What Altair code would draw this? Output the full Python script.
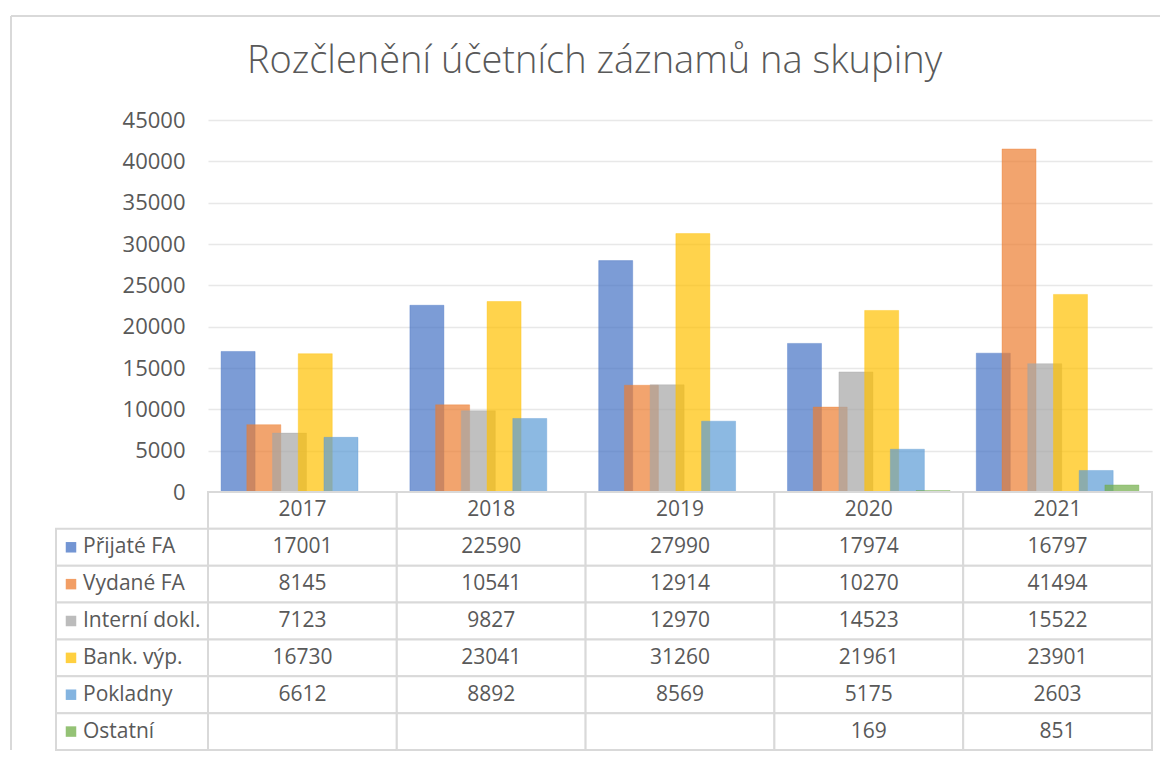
import altair as alt
import pandas as pd

# ---- data ----
years = ["2017", "2018", "2019", "2020", "2021"]
series = ["Přijaté FA", "Vydané FA", "Interní dokl.", "Bank. výp.", "Pokladny", "Ostatní"]
prijate_fa = [17001, 22590, 27990, 17974, 16797]
vydane_fa = [8145, 10541, 12914, 10270, 41494]
interni_dokl = [7123, 9827, 12970, 14523, 15522]
bank_vyp = [16730, 23041, 31260, 21961, 23901]
pokladny = [6612, 8892, 8569, 5175, 2603]
ostatni = [None, None, None, 169, 851]
colors = ["#4472C4", "#ED7D31", "#A5A5A5", "#FFC000", "#5B9BD5", "#70AD47"]
y_ticks = [0, 5000, 10000, 15000, 20000, 25000, 30000, 35000, 40000, 45000]
title_text = "Rozčlenění účetních záznamů na skupiny"

values_by_series = [prijate_fa, vydane_fa, interni_dokl, bank_vyp, pokladny, ostatni]
records = []
for s, vals in zip(series, values_by_series):
    for yr, v in zip(years, vals):
        records.append({"year": yr, "series": s, "value": v,
                        "txt": "" if v is None else str(v)})
df = pd.DataFrame(records)
hdr = pd.DataFrame({"year": years, "series": ["hdr"] * len(years), "value": None, "txt": years})
tdf = pd.concat([hdr, df], ignore_index=True)
row_domain = ["hdr"] + series
ldf = pd.DataFrame({"series": series})

# ---- style ----
FONT = "Open Sans"
TXT = "#595959"
LINE = "#d9d9d9"
W_LAB, W, H, HT = 152, 944, 372, 258
no_frame = alt.ViewBackground(stroke="transparent", strokeWidth=0)

color = alt.Color("series:N", scale=alt.Scale(domain=series, range=colors), legend=None)
stroke = alt.Stroke("series:N", scale=alt.Scale(domain=series, range=colors), legend=None)
x_year = alt.X("year:N", sort=years,
               scale=alt.Scale(domain=years, paddingInner=0, paddingOuter=0), axis=None)
y_row = alt.Y("series:N", scale=alt.Scale(domain=row_domain, paddingInner=0, paddingOuter=0),
              axis=None)

# ---- bars ----
bars = alt.Chart(df).transform_filter("isValid(datum.value)").mark_bar(
    width=34, fillOpacity=0.7, strokeOpacity=0.35, strokeWidth=1
).encode(
    x=x_year,
    xOffset=alt.XOffset("series:N", sort=series,
                        scale=alt.Scale(domain=series, paddingInner=0, paddingOuter=0.67)),
    y=alt.Y("value:Q", scale=alt.Scale(domain=[0, 45000], nice=False),
            axis=alt.Axis(values=y_ticks, format="d", title=None, grid=True,
                          gridColor="#e8e8e8", gridWidth=1.5, domain=False, ticks=False,
                          labelPadding=23, labelFont=FONT, labelFontSize=22,
                          labelColor=TXT)),
    color=color,
    stroke=stroke,
).properties(width=W, height=H, view=no_frame)

# ---- spacer with chart-area frame ----
one = alt.Data(values=[{}])
frame_left = alt.Chart(one).mark_rule(color=LINE, strokeWidth=2).encode(
    x=alt.value(-45), y=alt.value(-104), y2=alt.value(H + HT))
frame_top = alt.Chart(one).mark_rule(color=LINE, strokeWidth=2).encode(
    x=alt.value(-45), x2=alt.value(W_LAB + W + 8), y=alt.value(-104))
spacer = alt.layer(frame_left, frame_top).properties(width=W_LAB, height=H, view=no_frame)

# ---- data table ----
cells = alt.Chart(tdf).mark_rect(fill="white", stroke=LINE, strokeWidth=2).encode(
    x=x_year, y=y_row)
cell_text = alt.Chart(tdf).mark_text(font=FONT, fontSize=21, color=TXT).encode(
    x=x_year, y=y_row, text="txt:N")
table = alt.layer(cells, cell_text).properties(width=W, height=HT, view=no_frame)

lab_cells = alt.Chart(ldf).mark_rect(fill="white", stroke=LINE, strokeWidth=2).encode(
    x=alt.value(0), x2=alt.value(W_LAB), y=y_row)
lab_sq = alt.Chart(ldf).mark_square(size=110, fillOpacity=0.75).encode(
    x=alt.value(15), y=y_row, color=color)
lab_txt = alt.Chart(ldf).mark_text(font=FONT, fontSize=21, color=TXT, align="left").encode(
    x=alt.value(27), y=y_row, text="series:N")
labels = alt.layer(lab_cells, lab_sq, lab_txt).properties(width=W_LAB, height=HT, view=no_frame)

chart = alt.concat(spacer, bars, labels, table, columns=2, spacing=0, bounds="flush").properties(
    title=alt.Title(title_text, font=FONT, fontSize=38, fontWeight=300, color=TXT,
                    anchor="middle", dx=9, offset=-66),
    padding={"left": 2, "top": 7, "right": 0, "bottom": 0},
).configure_view(stroke="transparent", strokeWidth=0).configure(background="white")

chart.save("out.html", embed_options={"renderer": "svg", "actions": False})
